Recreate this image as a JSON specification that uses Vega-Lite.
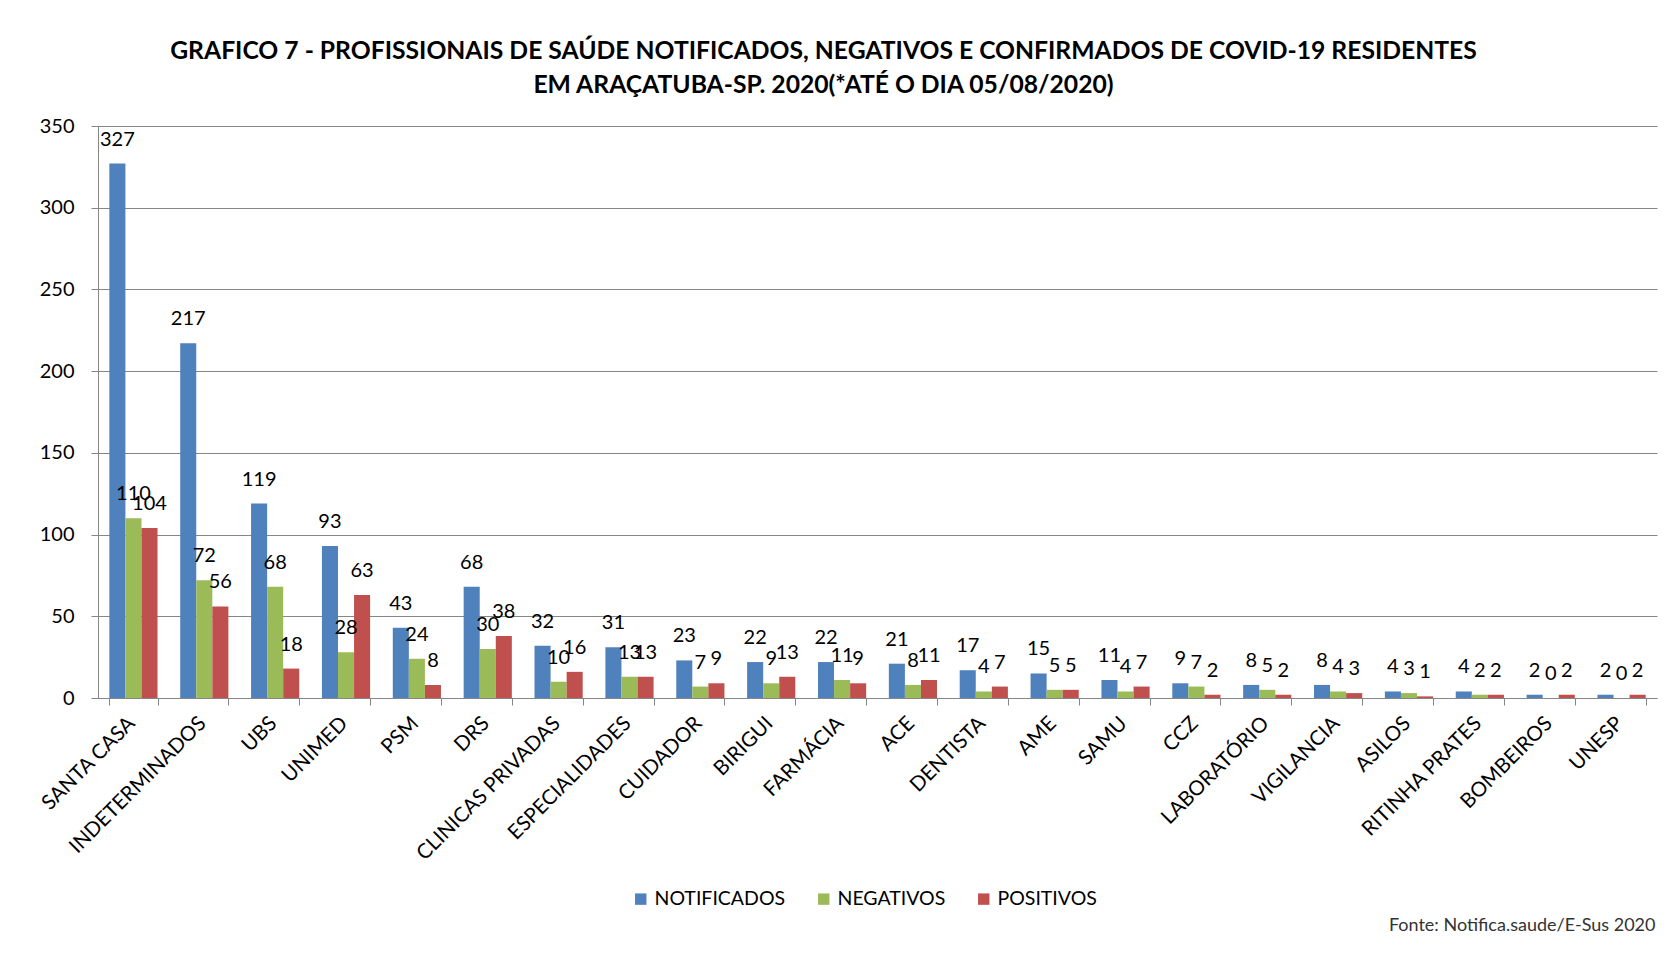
{
  "$schema": "https://vega.github.io/schema/vega-lite/v6.json",
  "autosize": {"type": "none"},
  "width": 1559,
  "height": 572,
  "padding": {"left": 98, "top": 126, "right": 14, "bottom": 259},
  "background": "white",
  "config": {
    "view": {"stroke": null},
    "font": "Lato"
  },
  "title": {
    "text": ["GRAFICO 7 - PROFISSIONAIS DE SAÚDE NOTIFICADOS, NEGATIVOS E CONFIRMADOS DE COVID-19 RESIDENTES", "EM ARAÇATUBA-SP. 2020(*ATÉ O DIA 05/08/2020)"],
    "anchor": "middle",
    "dx": -54,
    "offset": 18,
    "font": "Lato",
    "fontSize": 24.7,
    "fontWeight": "bold",
    "lineHeight": 34,
    "color": "black"
  },
  "data": {
    "values": [
      {"categoria": "SANTA CASA", "NOTIFICADOS": 327, "NEGATIVOS": 110, "POSITIVOS": 104},
      {"categoria": "INDETERMINADOS", "NOTIFICADOS": 217, "NEGATIVOS": 72, "POSITIVOS": 56},
      {"categoria": "UBS", "NOTIFICADOS": 119, "NEGATIVOS": 68, "POSITIVOS": 18},
      {"categoria": "UNIMED", "NOTIFICADOS": 93, "NEGATIVOS": 28, "POSITIVOS": 63},
      {"categoria": "PSM", "NOTIFICADOS": 43, "NEGATIVOS": 24, "POSITIVOS": 8},
      {"categoria": "DRS", "NOTIFICADOS": 68, "NEGATIVOS": 30, "POSITIVOS": 38},
      {"categoria": "CLINICAS PRIVADAS", "NOTIFICADOS": 32, "NEGATIVOS": 10, "POSITIVOS": 16},
      {"categoria": "ESPECIALIDADES", "NOTIFICADOS": 31, "NEGATIVOS": 13, "POSITIVOS": 13},
      {"categoria": "CUIDADOR", "NOTIFICADOS": 23, "NEGATIVOS": 7, "POSITIVOS": 9},
      {"categoria": "BIRIGUI", "NOTIFICADOS": 22, "NEGATIVOS": 9, "POSITIVOS": 13},
      {"categoria": "FARMÁCIA", "NOTIFICADOS": 22, "NEGATIVOS": 11, "POSITIVOS": 9},
      {"categoria": "ACE", "NOTIFICADOS": 21, "NEGATIVOS": 8, "POSITIVOS": 11},
      {"categoria": "DENTISTA", "NOTIFICADOS": 17, "NEGATIVOS": 4, "POSITIVOS": 7},
      {"categoria": "AME", "NOTIFICADOS": 15, "NEGATIVOS": 5, "POSITIVOS": 5},
      {"categoria": "SAMU", "NOTIFICADOS": 11, "NEGATIVOS": 4, "POSITIVOS": 7},
      {"categoria": "CCZ", "NOTIFICADOS": 9, "NEGATIVOS": 7, "POSITIVOS": 2},
      {"categoria": "LABORATÓRIO", "NOTIFICADOS": 8, "NEGATIVOS": 5, "POSITIVOS": 2},
      {"categoria": "VIGILANCIA", "NOTIFICADOS": 8, "NEGATIVOS": 4, "POSITIVOS": 3},
      {"categoria": "ASILOS", "NOTIFICADOS": 4, "NEGATIVOS": 3, "POSITIVOS": 1},
      {"categoria": "RITINHA PRATES", "NOTIFICADOS": 4, "NEGATIVOS": 2, "POSITIVOS": 2},
      {"categoria": "BOMBEIROS", "NOTIFICADOS": 2, "NEGATIVOS": 0, "POSITIVOS": 2},
      {"categoria": "UNESP", "NOTIFICADOS": 2, "NEGATIVOS": 0, "POSITIVOS": 2}
    ]
  },
  "transform": [
    {"fold": ["NOTIFICADOS", "NEGATIVOS", "POSITIVOS"], "as": ["serie", "valor"]}
  ],
  "encoding": {
    "x": {
      "field": "categoria",
      "type": "nominal",
      "sort": null,
      "scale": {"paddingInner": 0.32, "paddingOuter": 0.16},
      "axis": {
        "title": "Fonte: Notifica.saude/E-Sus 2020",
        "titleFont": "Lato",
        "titleFontSize": 18,
        "titleFontWeight": "normal",
        "titleColor": "#333333",
        "titleX": 1557,
        "titleY": 227,
        "titleAlign": "right",
        "titleBaseline": "middle",
        "titleAnchor": "end",
        "labelAngle": -45,
        "labelAlign": "right",
        "labelBaseline": "middle",
        "labelFontSize": 20.5,
        "labelLimit": 0,
        "labelColor": "black",
        "labelPadding": 15,
        "labelOffset": -2,
        "tickBand": "extent",
        "domainColor": "#868686",
        "tickColor": "#868686",
        "tickSize": 7,
        "grid": false
      }
    },
    "xOffset": {
      "field": "serie",
      "sort": ["NOTIFICADOS", "NEGATIVOS", "POSITIVOS"],
      "scale": {"paddingInner": 0, "paddingOuter": 0}
    },
    "y": {
      "field": "valor",
      "type": "quantitative",
      "scale": {"domain": [0, 350]},
      "axis": {
        "title": null,
        "values": [0, 50, 100, 150, 200, 250, 300, 350],
        "labelFontSize": 20,
        "labelColor": "black",
        "labelPadding": 17,
        "grid": true,
        "gridColor": "#868686",
        "domainColor": "#868686",
        "tickColor": "#868686",
        "tickSize": 7
      }
    }
  },
  "layer": [
    {
      "mark": {"type": "bar"},
      "encoding": {
        "color": {
          "field": "serie",
          "type": "nominal",
          "sort": ["NOTIFICADOS", "NEGATIVOS", "POSITIVOS"],
          "scale": {"domain": ["NOTIFICADOS", "NEGATIVOS", "POSITIVOS"], "range": ["#4F81BD", "#9BBB59", "#C0504D"]},
          "legend": {
            "orient": "none",
            "legendX": 533,
            "legendY": 763,
            "direction": "horizontal",
            "title": null,
            "symbolType": "square",
            "symbolSize": 130,
            "symbolStrokeWidth": 0,
            "labelFontSize": 19.5,
            "labelColor": "black",
            "columnPadding": 28
          }
        }
      }
    },
    {
      "mark": {"type": "text", "baseline": "middle", "dy": -24, "fontSize": 20, "color": "black"},
      "encoding": {"text": {"field": "valor", "type": "quantitative"}}
    }
  ]
}
